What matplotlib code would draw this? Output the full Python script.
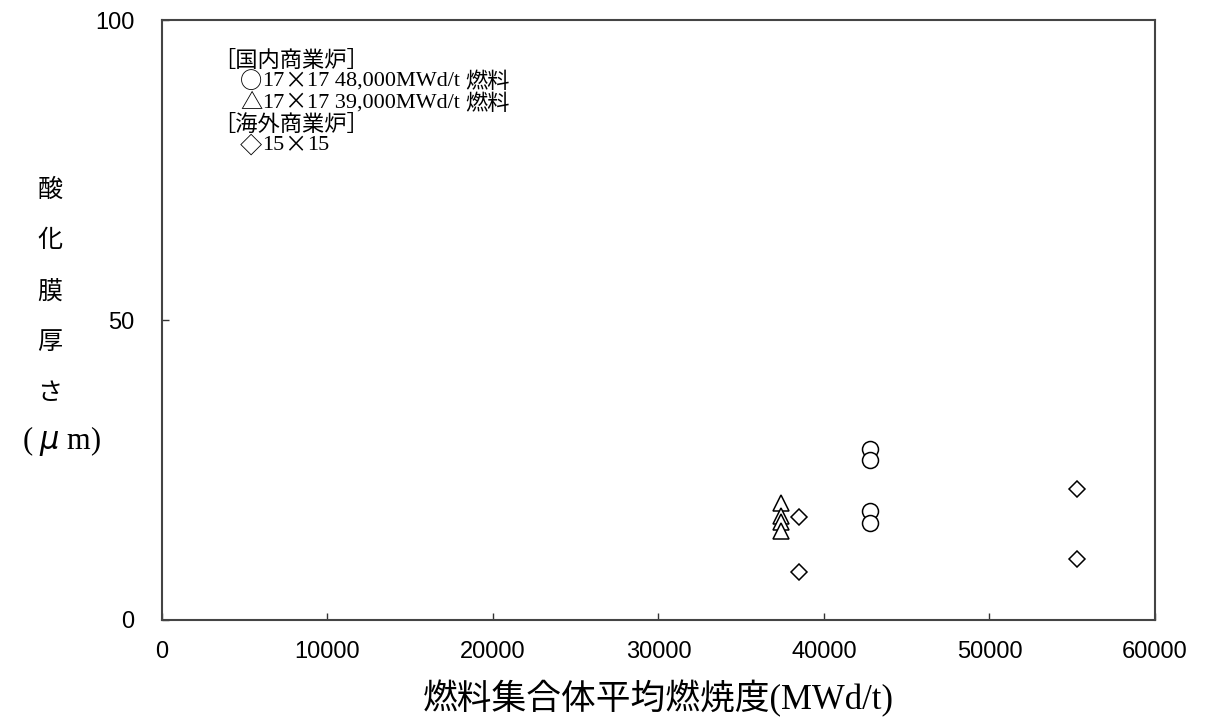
import matplotlib
matplotlib.use("Agg")
import matplotlib.pyplot as plt

# 国内商業炉 17x17 48,000MWd/t 燃料
circle_x = [42800, 42800, 42800, 42800]
circle_y = [28.5, 26.7, 18.2, 16.2]
# 国内商業炉 17x17 39,000MWd/t 燃料
tri_x = [37400, 37400, 37400, 37400]
tri_y = [19.5, 17.4, 16.3, 14.8]
# 海外商業炉 15x15
dia_x = [38500, 38500, 55300, 55300]
dia_y = [17.2, 8.0, 21.8, 10.1]

xticks = [0, 10000, 20000, 30000, 40000, 50000, 60000]
yticks = [0, 50, 100]

serif = ['Liberation Serif', 'Noto Sans CJK JP']
cjk = ['Noto Sans CJK JP']

fig = plt.figure(figsize=(12.07, 7.18), dpi=100)
ax = fig.add_axes([0.1342, 0.1365, 0.8227, 0.8356])

mk = dict(linestyle='none', markerfacecolor='white', markeredgecolor='black',
          markeredgewidth=1.1)
ax.plot(circle_x, circle_y, marker='o', markersize=11.5, **mk)
ax.plot(tri_x, tri_y, marker='^', markersize=12, **mk)
ax.plot(dia_x, dia_y, marker='D', markersize=8, **mk)

ax.set_xlim(0, 60000)
ax.set_ylim(0, 100)
ax.set_xticks(xticks)
ax.set_yticks(yticks)
ax.tick_params(direction='in', length=5, width=1, labelsize=17, pad=15,
               color='#333333')
ax.tick_params(axis='y', pad=20)
for lab in ax.get_xticklabels() + ax.get_yticklabels():
    lab.set_family('Liberation Sans')
for s in ax.spines.values():
    s.set_linewidth(1.5)
    s.set_color('#444444')

ax.set_xlabel('燃料集合体平均燃焼度(MWd/t)', family=serif, fontsize=25, labelpad=12)

# vertical y label, one character per line
ylab_chars = ['酸', '化', '膜', '厚', 'さ']
for i, ch in enumerate(ylab_chars):
    fig.text(50 / 1207, 1 - (190 + i * 51) / 718, ch, family=serif, fontsize=18,
             ha='center', va='center')
fig.text(62 / 1207, 1 - 441 / 718, '( $\\mu$ m)', family=serif, fontsize=22,
         ha='center', va='center')

# legend text, drawn in pieces so symbols use the wide CJK glyphs
renderer = fig.canvas.get_renderer()


def draw_line(x_px, y_px, pieces, size=16):
    for txt, fam in pieces:
        t = fig.text(x_px / 1207, 1 - y_px / 718, txt, family=fam, fontsize=size,
                     ha='left', va='center')
        x_px += t.get_window_extent(renderer).width


legend_lines = [
    [('［国内商業炉］', cjk)],
    [('○', cjk), ('17', serif), ('×', cjk), ('17 48,000MWd/t ', serif), ('燃料', cjk)],
    [('△', cjk), ('17', serif), ('×', cjk), ('17 39,000MWd/t ', serif), ('燃料', cjk)],
    [('［海外商業炉］', cjk)],
    [('◇', cjk), ('15', serif), ('×', cjk), ('15', serif)],
]
indent = [213, 240, 240, 213, 240]
for i, pieces in enumerate(legend_lines):
    draw_line(indent[i], 60 + i * 21.5, pieces)

fig.savefig('out.png', dpi=100)
